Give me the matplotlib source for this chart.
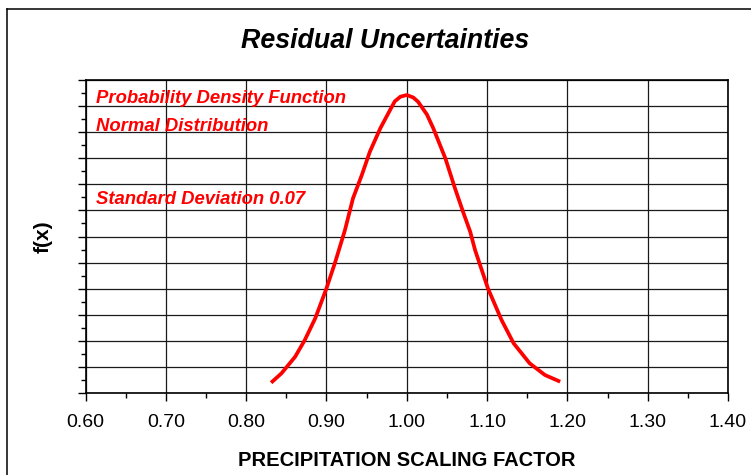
import matplotlib
matplotlib.use("Agg")
import matplotlib.pyplot as plt
from matplotlib.lines import Line2D
from matplotlib.ticker import MultipleLocator, NullFormatter

# Probability density of the precipitation scaling factor
scaling_factor = [0.831, 0.844, 0.861, 0.873, 0.886, 0.900, 0.911, 0.923, 0.933,
                  0.944, 0.954, 0.967, 0.979, 0.985, 0.992, 1.000, 1.008, 1.014,
                  1.025, 1.033, 1.048, 1.060, 1.070, 1.079, 1.085, 1.101, 1.118,
                  1.133, 1.153, 1.172, 1.191]
density = [0.197, 0.378, 0.696, 1.016, 1.432, 2.007, 2.517, 3.124, 3.732,
           4.179, 4.625, 5.074, 5.420, 5.590, 5.680, 5.712, 5.665, 5.584,
           5.340, 5.074, 4.499, 3.924, 3.475, 3.090, 2.741, 2.007, 1.399,
           0.953, 0.569, 0.345, 0.217]

x_ticks = [0.60, 0.70, 0.80, 0.90, 1.00, 1.10, 1.20, 1.30, 1.40]
x_tick_labels = ["0.60", "0.70", "0.80", "0.90", "1.00", "1.10", "1.20", "1.30", "1.40"]

title = "Residual Uncertainties"
x_label = "PRECIPITATION SCALING FACTOR"
y_label = "f(x)"
notes = ["Probability Density Function", "Normal Distribution", "Standard Deviation 0.07"]

plt.rcParams["font.family"] = ["Liberation Sans", "DejaVu Sans"]

W, H = 751, 475
fig = plt.figure(figsize=(W / 100, H / 100), dpi=100)
fig.patch.set_facecolor("white")

# chart-area border (left and top edges visible)
fig.add_artist(Line2D([7.3 / W, 7.3 / W], [0, 1 - 9.3 / H], color="black", lw=1.1,
                      transform=fig.transFigure))
fig.add_artist(Line2D([7.3 / W, 1], [1 - 9.3 / H, 1 - 9.3 / H], color="black", lw=1.1,
                      transform=fig.transFigure))

left, right, top, bottom = 85.6, 728.0, 80.0, 393.0
ax = fig.add_axes([left / W, 1 - bottom / H, (right - left) / W, (bottom - top) / H])

ax.set_xlim(0.60, 1.40)
ax.set_ylim(0, 6)

ax.xaxis.set_major_locator(MultipleLocator(0.1))
ax.xaxis.set_minor_locator(MultipleLocator(0.05))
ax.yaxis.set_major_locator(MultipleLocator(0.5))
ax.yaxis.set_minor_locator(MultipleLocator(0.25))
ax.set_xticks(x_ticks)
ax.set_xticklabels(x_tick_labels, fontsize=14)
ax.yaxis.set_major_formatter(NullFormatter())

ax.tick_params(axis="both", which="major", direction="out", length=6, width=1.0,
               color="black", pad=9)
ax.tick_params(axis="both", which="minor", direction="out", length=3.5, width=1.0,
               color="black")

ax.grid(True, which="major", color="#1a1a1a", linewidth=0.9)
ax.set_axisbelow(True)
for s in ax.spines.values():
    s.set_color("black")
    s.set_linewidth(1.2)

ax.plot(scaling_factor, density, color="#ff0000", lw=2.7, solid_capstyle="butt",
        solid_joinstyle="round", zorder=3)

note_y = [5.565, 5.022, 3.623]
for txt, yy in zip(notes, note_y):
    ax.text(0.613, yy, txt, color="#ff0000", fontsize=13.3, fontweight="bold",
            fontstyle="italic", va="baseline", ha="left", zorder=4)

fig.text(385 / W, 1 - 41 / H, title, fontsize=19.3, fontweight="bold",
         fontstyle="italic", ha="center", va="center")
fig.text((left + right) / 2 / W, 1 - 460 / H, x_label, fontsize=14.5,
         fontweight="bold", ha="center", va="center")
fig.text(43 / W, 1 - 237 / H, y_label, fontsize=15, fontweight="bold",
         rotation=90, ha="center", va="center")

fig.savefig("out.png", dpi=100, facecolor="white")
